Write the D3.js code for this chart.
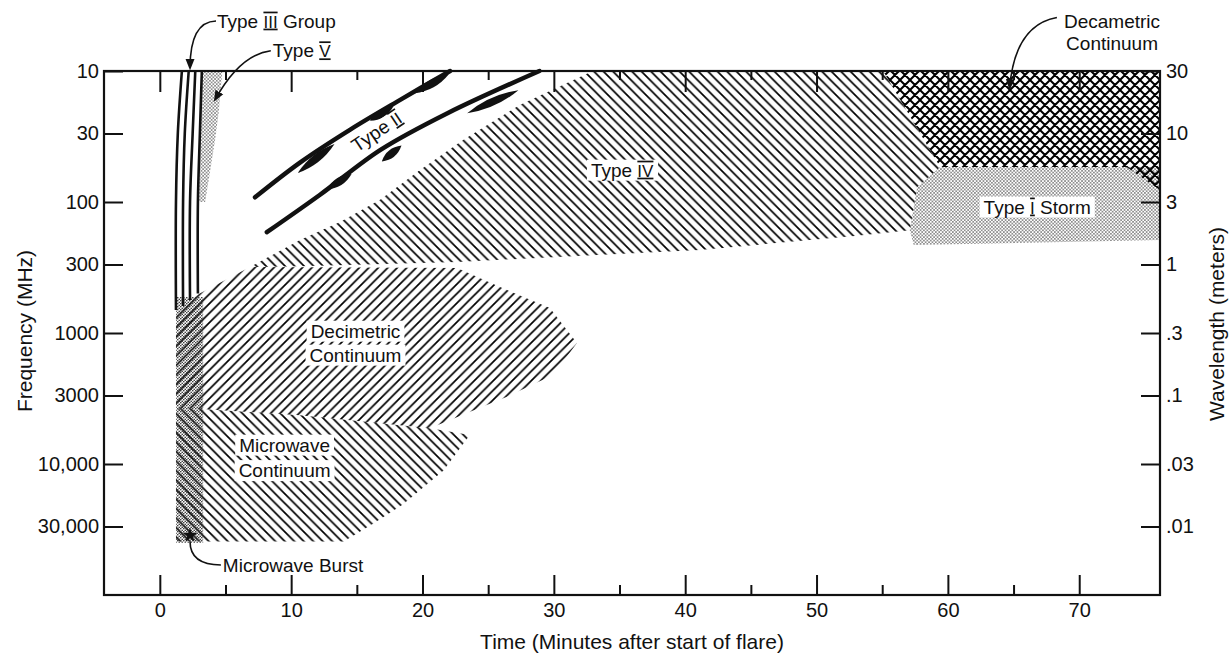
<!DOCTYPE html>
<html>
<head>
<meta charset="utf-8">
<title>Solar radio bursts after a flare</title>
<script src="https://d3js.org/d3.v7.min.js"></script>
<style>
body { margin: 0; background: #fff; }
text { font-family: "Liberation Sans", Arial, sans-serif; fill: #111; }
.axis text { font-size: 20px; }
.lbl { font-size: 19px; }
</style>
</head>
<body>
<script>

// axis ticks
var majorTime = [0, 10, 20, 30, 40, 50, 60, 70];
var minorTime = [5, 15, 25, 35, 45, 55, 65];
var freqTicks = [10, 30, 100, 300, 1000, 3000, 10000, 30000];
var freqLabels = ["10", "30", "100", "300", "1000", "3000", "10,000", "30,000"];
var waveTicks = [30, 10, 3, 1, 0.3, 0.1, 0.03, 0.01];
var waveLabels = ["30", "10", "3", "1", ".3", ".1", ".03", ".01"];

// regions: [minutes, MHz]
var typeIIILines = [
  [[1.68, 10], [1.37, 30], [1.23, 100], [1.23, 667]],
  [[2.2, 10], [1.9, 30], [1.77, 100], [1.77, 622]],
  [[2.7, 10], [2.5, 30], [2.3, 100], [2.3, 560]],
  [[3.2, 10], [3.05, 30], [2.9, 100], [2.9, 500]]
];
var typeV = [[3.25, 10], [4.75, 10], [4.5, 20], [4.2, 34], [3.45, 100], [3.0, 100], [3.05, 30]];
var typeIIUpper = [[7.25, 92], [10.67, 50], [14.5, 28], [18.3, 16.6], [22.1, 10]];
var typeIILower = [[8.15, 170], [12.2, 88], [16.8, 40], [21.9, 21], [28.9, 10]];
var typeIIDashes = [
  [10.5, 60, 13.3, 36],
  [16.0, 24, 17.8, 18.5],
  [19.4, 14.8, 22.0, 10.6],
  [23.4, 21, 27.3, 14],
  [16.9, 49, 18.4, 37],
  [12.7, 80, 14.6, 61]
];
var typeIV = [[6.87, 314], [8.16, 267], [10.67, 195], [13.72, 142], [16.77, 96], [19.81, 57],
  [23.09, 33.6], [27.4, 18.2], [32.97, 10], [55.07, 10], [59.41, 54], [57.66, 77],
  [57.1, 164], [52.9, 182], [41.1, 232], [22.63, 287], [10.67, 309]];
var decimetric = [[1.23, 667], [3.0, 502], [6.87, 314], [22.63, 319], [25.9, 446], [29.7, 645],
  [31.76, 1190], [29.93, 2090], [26.43, 3070], [23.39, 4080], [20.57, 5330], [10.67, 4240],
  [2.0, 3740], [1.23, 3900]];
var microwave = [[1.23, 3900], [2.0, 3740], [10.67, 4240], [20.57, 5330], [23.6, 6000],
  [21.6, 11200], [18.5, 20400], [16.2, 28700], [14.0, 39100], [1.23, 39100]];
var burst = [[1.25, 530], [3.3, 530], [3.3, 40000], [1.25, 40000]];
var burstStar = [2.3, 35000];
var decametric = [[55.07, 10], [76.15, 10], [76.15, 81], [73.6, 54], [59.41, 54]];
var typeIStorm = [[59.41, 54], [76.15, 54], [76.15, 195], [57.4, 213], [57.1, 164], [57.66, 77]];

// labels: text ("|..|" = roman numeral), position [minutes, MHz]
var innerLabels = [
  {text: "Type |IV|", t: 35.2, f: 57},
  {text: "Type |I|  Storm", t: 66.8, f: 109},
  {text: "Decimetric", t: 14.9, f: 966},
  {text: "Continuum", t: 14.9, f: 1472},
  {text: "Microwave", t: 9.5, f: 7160},
  {text: "Continuum", t: 9.5, f: 11200}
];
var outerLabels = [
  {text: "Type |III|  Group", t: 4.35, f: 4.15, anchor: "start"},
  {text: "Type |V|", t: 8.6, f: 7.0, anchor: "start"},
  {text: "Decametric", t: 72.5, f: 4.2, anchor: "middle"},
  {text: "Continuum", t: 72.5, f: 6.2, anchor: "middle"},
  {text: "Microwave  Burst", t: 4.8, f: 59000, anchor: "start"}
];
var arrows = [
  [[4.28, 4.15], [2.3, 4.2], [2.3, 9.5]],
  [[8.45, 7.0], [6.1, 7.5], [4.2, 16.6]],
  [[68.3, 3.9], [65.1, 4.45], [64.7, 13.5]],
  [[4.65, 59000], [2.3, 59000], [2.3, 39100]]
];

var W = 1231, H = 653;
var svg = d3.select("body").append("svg").attr("width", W).attr("height", H);

var x = d3.scaleLinear().domain([-4.25, 76.15]).range([104, 1160]);
var y = d3.scaleLog().domain([10, 100000]).range([71, 595]);
var yW = d3.scaleLog().domain([30, 0.003]).range([71, 595]);

var defs = svg.append("defs");

function hatch(id, kind, s, sw) {
  var p = defs.append("pattern").attr("id", id)
    .attr("patternUnits", "userSpaceOnUse").attr("width", s).attr("height", s);
  var back = "M-1,-1L" + (s + 1) + "," + (s + 1) + "M" + (s - 1) + ",-1L" + (s + 1) + ",1M-1," + (s - 1) + "L1," + (s + 1);
  var fwd = "M-1," + (s + 1) + "L" + (s + 1) + ",-1M-1,1L1,-1M" + (s - 1) + "," + (s + 1) + "L" + (s + 1) + "," + (s - 1);
  var d = kind === "back" ? back : kind === "fwd" ? fwd : back + fwd;
  p.append("path").attr("d", d).attr("stroke", "#000").attr("stroke-width", sw).attr("fill", "none");
}
hatch("hBack", "back", 9.5, 1.7);
hatch("hFwd", "fwd", 9.5, 1.7);
hatch("hCross", "cross", 10, 2);

function stipple(id, s, r, col) {
  var p = defs.append("pattern").attr("id", id)
    .attr("patternUnits", "userSpaceOnUse").attr("width", s).attr("height", s);
  p.append("circle").attr("cx", s / 4).attr("cy", s / 4).attr("r", r).attr("fill", col);
  p.append("circle").attr("cx", 3 * s / 4).attr("cy", 3 * s / 4).attr("r", r).attr("fill", col);
}
stipple("dotLight", 3.4, 0.75, "#555");
stipple("dotDark", 3, 0.8, "#333");

defs.append("marker").attr("id", "arrow")
  .attr("viewBox", "0 0 10 10").attr("refX", 8).attr("refY", 5)
  .attr("markerWidth", 7).attr("markerHeight", 7).attr("orient", "auto")
  .append("path").attr("d", "M0,1L10,5L0,9Z").attr("fill", "#111");

var area = d3.line().x(function(d) { return x(d[0]); }).y(function(d) { return y(d[1]); })
  .curve(d3.curveLinearClosed);
var curve = d3.line().x(function(d) { return x(d[0]); }).y(function(d) { return y(d[1]); })
  .curve(d3.curveCatmullRom.alpha(0.5));

// regions
svg.append("path").attr("d", area(typeIStorm)).attr("fill", "url(#dotLight)");
svg.append("path").attr("d", area(decametric)).attr("fill", "url(#hCross)");
svg.append("path").attr("d", area(typeIV)).attr("fill", "url(#hBack)");
svg.append("path").attr("d", area(decimetric)).attr("fill", "url(#hFwd)");
svg.append("path").attr("d", area(microwave)).attr("fill", "url(#hBack)");
svg.append("path").attr("d", area(burst)).attr("fill", "url(#dotDark)");
svg.append("path").attr("d", area(typeV)).attr("fill", "url(#dotLight)");

// type III
svg.selectAll(".t3").data(typeIIILines).enter().append("path")
  .attr("class", "t3").attr("d", curve)
  .attr("fill", "none").attr("stroke", "#111").attr("stroke-width", 2.6);

// type II bands and dashes
[typeIIUpper, typeIILower].forEach(function(b) {
  svg.append("path").attr("d", curve(b)).attr("fill", "none")
    .attr("stroke", "#111").attr("stroke-width", 4.5).attr("stroke-linecap", "round");
});
svg.selectAll(".dash").data(typeIIDashes).enter().append("path")
  .attr("class", "dash")
  .attr("d", function(d) {
    var x1 = x(d[0]), y1 = y(d[1]), x2 = x(d[2]), y2 = y(d[3]);
    var mx = (x1 + x2) / 2, my = (y1 + y2) / 2;
    var len = Math.hypot(x2 - x1, y2 - y1), nx = -(y2 - y1) / len, ny = (x2 - x1) / len;
    var w = 8;
    return "M" + x1 + "," + y1 + "Q" + (mx + nx * w) + "," + (my + ny * w) + " " + x2 + "," + y2 +
      "Q" + (mx - nx * w) + "," + (my - ny * w) + " " + x1 + "," + y1 + "Z";
  })
  .attr("fill", "#111");

// microwave burst star
svg.append("path")
  .attr("transform", "translate(" + x(burstStar[0]) + "," + y(burstStar[1]) + ")")
  .attr("d", d3.symbol().type(d3.symbolStar).size(70)).attr("fill", "#111");

// labels with roman numerals
function writeLabel(sel, str) {
  str.split("|").forEach(function(part, i) {
    var ts = sel.append("tspan").text(part);
    if (i % 2 === 1) ts.style("text-decoration", "overline underline").style("font-size", "17px");
  });
}

innerLabels.forEach(function(l) {
  var g = svg.append("g");
  var r = g.append("rect").attr("fill", "#fff");
  var t = g.append("text").attr("class", "lbl").attr("x", x(l.t)).attr("y", y(l.f))
    .attr("dy", "0.35em").attr("text-anchor", "middle");
  writeLabel(t, l.text);
  var b = t.node().getBBox();
  r.attr("x", b.x - 4).attr("y", b.y).attr("width", b.width + 8).attr("height", b.height);
});

// type II label along the bands
var t2 = svg.append("g").attr("transform", "translate(" + x(16.5) + "," + y(29) + ") rotate(-34)");
var t2r = t2.append("rect").attr("fill", "#fff");
var t2t = t2.append("text").attr("class", "lbl").attr("dy", "0.35em").attr("text-anchor", "middle");
writeLabel(t2t, "Type |II|");
var b2 = t2t.node().getBBox();
t2r.attr("x", b2.x - 2).attr("y", b2.y + 2).attr("width", b2.width + 4).attr("height", b2.height - 4);

outerLabels.forEach(function(l) {
  var t = svg.append("text").attr("class", "lbl").attr("x", x(l.t)).attr("y", y(l.f))
    .attr("dy", "0.35em").attr("text-anchor", l.anchor);
  writeLabel(t, l.text);
});

svg.selectAll(".arr").data(arrows).enter().append("path")
  .attr("class", "arr")
  .attr("d", function(d) {
    return "M" + x(d[0][0]) + "," + y(d[0][1]) + "Q" + x(d[1][0]) + "," + y(d[1][1]) + " " + x(d[2][0]) + "," + y(d[2][1]);
  })
  .attr("fill", "none").attr("stroke", "#111").attr("stroke-width", 1.6)
  .attr("marker-end", function(d, i) { return i < 3 ? "url(#arrow)" : null; });

// axes
function styleAxis(g) {
  g.select(".domain").remove();
  g.selectAll(".tick line").attr("stroke", "#111").attr("stroke-width", 2);
  g.attr("class", "axis").attr("font-family", null).attr("font-size", null);
}
svg.append("g").attr("transform", "translate(0," + y.range()[1] + ")")
  .call(d3.axisBottom(x).tickValues(majorTime).tickSizeInner(-20).tickSizeOuter(0).tickPadding(8)
    .tickFormat(d3.format("d")))
  .call(styleAxis);
svg.append("g").attr("transform", "translate(0," + y.range()[1] + ")")
  .call(d3.axisBottom(x).tickValues(minorTime).tickSizeInner(-10).tickSizeOuter(0).tickFormat(""))
  .call(styleAxis);
svg.append("g").attr("transform", "translate(0," + y.range()[0] + ")")
  .call(d3.axisTop(x).tickValues(majorTime).tickSizeInner(-21).tickSizeOuter(0).tickFormat(""))
  .call(styleAxis);
svg.append("g").attr("transform", "translate(0," + y.range()[0] + ")")
  .call(d3.axisTop(x).tickValues(minorTime).tickSizeInner(-9).tickSizeOuter(0).tickFormat(""))
  .call(styleAxis);
svg.append("g").attr("transform", "translate(" + x.range()[0] + ",0)")
  .call(d3.axisLeft(y).tickValues(freqTicks).tickSizeInner(-19).tickSizeOuter(0).tickPadding(5)
    .tickFormat(function(d, i) { return freqLabels[i]; }))
  .call(styleAxis);
svg.append("g").attr("transform", "translate(" + x.range()[1] + ",0)")
  .call(d3.axisRight(yW).tickValues(waveTicks).tickSizeInner(-19).tickSizeOuter(0).tickPadding(6)
    .tickFormat(function(d, i) { return waveLabels[i]; }))
  .call(styleAxis);

// frame
svg.append("rect")
  .attr("x", x.range()[0]).attr("y", y.range()[0])
  .attr("width", x.range()[1] - x.range()[0]).attr("height", y.range()[1] - y.range()[0])
  .attr("fill", "none").attr("stroke", "#111").attr("stroke-width", 2.2);

// axis titles
svg.append("text").attr("x", (x.range()[0] + x.range()[1]) / 2).attr("y", 642)
  .attr("text-anchor", "middle").attr("dy", "0.35em").style("font-size", "21px")
  .text("Time (Minutes after start of flare)");
svg.append("text").attr("transform", "translate(25," + 331 + ") rotate(-90)")
  .attr("text-anchor", "middle").attr("dy", "0.35em").style("font-size", "21px")
  .text("Frequency (MHz)");
svg.append("text").attr("transform", "translate(1217," + 324 + ") rotate(-90)")
  .attr("text-anchor", "middle").attr("dy", "0.35em").style("font-size", "21px")
  .text("Wavelength (meters)");

</script>
</body>
</html>
